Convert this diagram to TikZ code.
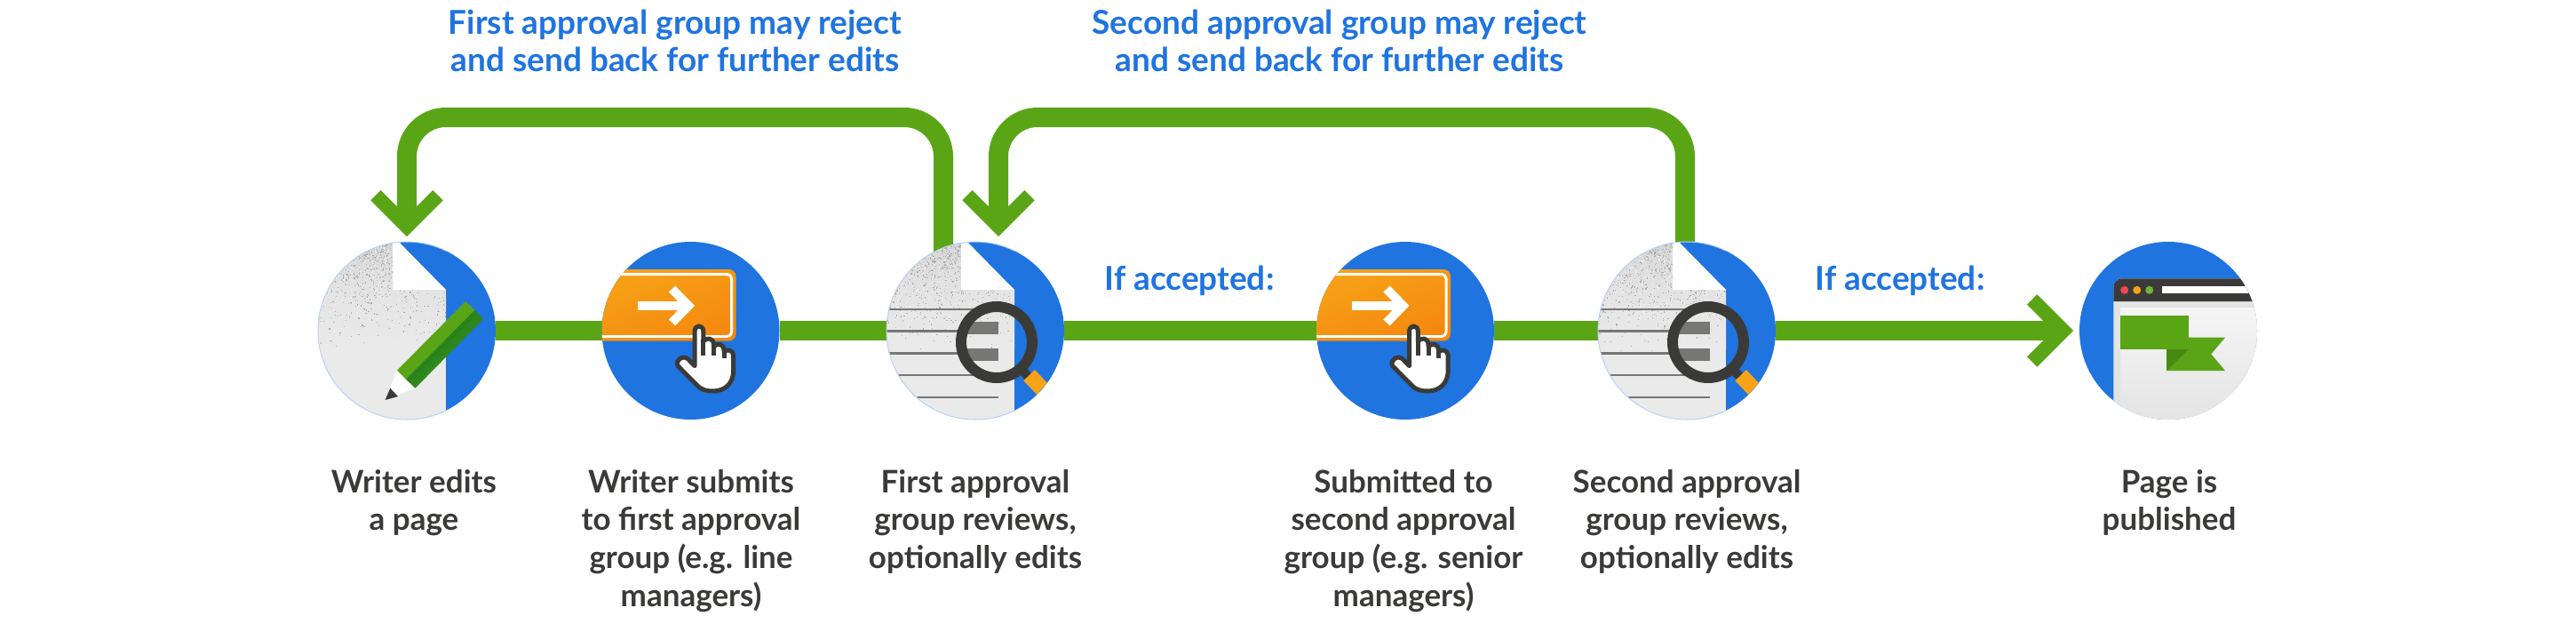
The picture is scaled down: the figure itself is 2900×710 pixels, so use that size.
\documentclass[tikz,border=0pt]{standalone}
\usepackage{fontspec}
\setmainfont{Lato}
\usetikzlibrary{arrows.meta,backgrounds}
\definecolor{flowgreen}{HTML}{5AA516}
\definecolor{darkgreen}{HTML}{0B6E20}
\definecolor{foldgreen}{HTML}{478A12}
\definecolor{discblue}{HTML}{1F74E0}
\definecolor{docgray}{HTML}{EAEAEA}
\definecolor{ink}{HTML}{3A3B39}
\definecolor{linegray}{HTML}{777775}
\definecolor{amber}{HTML}{F6A317}
\definecolor{deepamber}{HTML}{F5880F}
\definecolor{rimblue}{HTML}{B9D2F3}
\definecolor{dotred}{HTML}{F4474F}
\definecolor{dotgreen}{HTML}{6FB53A}
\tikzset{
  x=1pt,y=-1pt,
  disc/.style={circle,fill=discblue,minimum size=200pt,inner sep=0pt,outer sep=0pt},
  flow/.style={draw=flowgreen,line width=22pt,rounded corners=44pt},
  flowtip/.style={-{Straight Barb[length=35pt,width=70pt,line width=16pt]}},
  caption/.style={font=\bfseries\fontsize{35}{42.7}\selectfont,text=ink,align=center,anchor=north,inner sep=0pt},
  note/.style={font=\bfseries\fontsize{37}{42}\selectfont,text=discblue,align=center,inner sep=0pt},
  rulegray/.style={draw=linegray,line width=2.5pt},
  pics/rim/.style={code={
    \begin{scope}
      \clip (-110,-110) rectangle (44,110);
      \draw[rimblue,line width=1pt] (0,0) circle (100);
    \end{scope}
  }},
  pics/page/.style={code={
    \begin{scope}
      \clip (0,0) circle (100);
      \shade[top color=black!17,bottom color=docgray,middle color=black!11]
        (-110,-110) -- (-16,-110) -- (-16,-46) -- (44,-46) -- (44,20) -- (-110,20) -- cycle;
      \fill[docgray] (-110,20) rectangle (44,110);
      \begin{scope}
        \clip (-110,-110) -- (-16,-110) -- (-16,-46) -- (44,-46) -- (44,110) -- (-110,110) -- cycle;
        \pgfmathsetseed{#1}
        \foreach \i in {1,...,1100}{
          \pgfmathsetmacro\xa{rnd*150-105}
          \pgfmathsetmacro\ya{-100+125*rnd*rnd}
          \fill[black!32] (\xa,\ya) rectangle ++(1.2,1.2);
        }
        \foreach \i in {1,...,900}{
          \pgfmathsetmacro\xa{rnd*150-105}
          \pgfmathsetmacro\ya{-100+125*rnd}
          \fill[white!92!black] (\xa,\ya) rectangle ++(1.3,1.3);
        }
      \end{scope}
      \fill[white] (-16,-46) -- (44,-46) -- (-16,-107) -- cycle;
    \end{scope}
  }},
  pics/pencil/.style={code={
    \fill[white] (-11,44.7) -- (9.5,64.7) -- (-24.4,78) -- cycle;
    \fill[ink] (-24.4,78) -- (-18.7,64.7) -- (-10,74) -- cycle;
    \fill[flowgreen] (-11,44.7) -- (66,-33) -- (76.6,-23) -- (-1,54.7) -- cycle;
    \shade[left color=darkgreen,right color=flowgreen!85!darkgreen,shading angle=45]
      (-1,54.7) -- (76.6,-23) -- (86,-13) -- (9.5,64.7) -- cycle;
  }},
  pics/lens/.style={code={
    \begin{scope}
      \clip (0,0) circle (100);
      \foreach \yy in {-24,0.7,25.3,50,75}{\draw[rulegray] (-110,\yy) -- (26,\yy);}
      \begin{scope}
        \clip (24,13) circle (36);
        \fill[linegray] (-20,-10.3) rectangle (26,3.7);
        \fill[linegray] (-20,20.3) rectangle (26,34.3);
      \end{scope}
      \draw[ink,line width=10pt] (50,42) -- (62,54);
      \fill[amber] (67,44) -- (81,59) -- (69.3,72) -- (54.3,56.3) -- cycle;
      \draw[ink,line width=12pt] (24,13) circle (40);
    \end{scope}
  }},
  pics/clickbutton/.style={code={
    \begin{scope}
      \clip (0,0) circle (100);
      \shade[left color=amber,right color=deepamber,shading angle=20,rounded corners=8pt]
        (-120,-69) rectangle (51,11.7);
      \draw[white,line width=3pt,rounded corners=5pt] (-120,-63.5) -- (46,-63.5) -- (46,6.5) -- (-120,6.5);
      \draw[white,line width=10pt] (-59.6,-28) -- (-2,-28);
      \draw[white,line width=10pt,miter limit=10] (-21,-47) -- (-2.5,-28) -- (-21,-9);
      \draw[ink,line width=5pt,line join=round,fill=white,line cap=round]
        (4.6,39.7) -- (4.6,0.7) .. controls (4.6,-7) and (14.3,-7) .. (14.3,0.7)
        -- (14.3,12) .. controls (18,7) and (26,8) .. (26,16)
        -- (26,18) .. controls (30,13) and (37.5,15) .. (37.5,22)
        -- (37.5,24) .. controls (41,20) and (48.2,22) .. (48.2,28)
        -- (48.2,44.7) .. controls (48.2,60) and (38,68) .. (25,68)
        .. controls (17,68) and (11,66) .. (7.1,61.3)
        -- (-14.3,39.7) .. controls (-18,33) and (-8,27) .. (-3.6,31.3) -- cycle;
      \draw[ink,line width=5pt] (14.3,10) -- (14.3,28) (26,15) -- (26,28) (37.5,22) -- (37.5,31.3);
    \end{scope}
  }},
  pics/browser/.style={code={
    \begin{scope}
      \clip (0,0) circle (100);
      \fill[black!11,rounded corners=10pt] (-61.7,-58.7) rectangle (120,120);
      \shade[top color=black!4,bottom color=black!11] (-53.7,-25.3) rectangle (110,110);
      \fill[ink] (-61.7,-33) -- (-61.7,-48.7) arc[start angle=180,end angle=270,radius=10] -- (110,-58.7) -- (110,-33) -- cycle;
      \fill[white] (-6.7,-49.7) rectangle (110,-41.7);
      \fill[dotred] (-49.3,-45.7) circle (4.5);
      \fill[amber] (-35.3,-45.7) circle (4.5);
      \fill[dotgreen] (-21.3,-45.7) circle (4.5);
      \fill[flowgreen] (23.3,7.7) -- (64,7.7) -- (48.3,26.3) -- (64,45) -- (-2,45) -- (-2,20.7) -- cycle;
      \fill[foldgreen] (-2,20.7) -- (23.3,20.7) -- (-2,45) -- cycle;
      \fill[flowgreen] (-53.7,-16.7) rectangle (23.3,20.7);
    \end{scope}
  }},
}
\begin{document}
\begin{tikzpicture}
\useasboundingbox (0,0) rectangle (2900,710);
% discs
\node[disc] (c1) at (458,372) {};
\node[disc] (c2) at (777.5,372) {};
\node[disc] (c3) at (1098,372) {};
\node[disc] (c4) at (1582,372) {};
\node[disc] (c5) at (1899,372) {};
\node[disc] (c6) at (2441,372) {};
\coordinate (r1a) at (1062,132);
\coordinate (r1b) at (458,132);
\coordinate (t1) at (458,266);
\coordinate (r2a) at (1897,132);
\coordinate (r2b) at (1124,132);
\coordinate (t2) at (1124,266);
\coordinate (t3) at (2334,372);
% connectors under the discs
\begin{scope}[on background layer]
  \fill[white] (0,0) rectangle (2900,710);
  \draw[flow] (c1) -- (c2);
  \draw[flow] (c2) -- (c3);
  \draw[flow] (c3) -- (c4);
  \draw[flow] (c4) -- (c5);
  \draw[flow,flowtip] (c5) -- (t3);
  \draw[flow,flowtip] (r1a |- c3) -- (r1a) -- (r1b) -- (t1);
  \draw[flow,flowtip] (r2a |- c5) -- (r2a) -- (r2b) -- (t2);
\end{scope}
% icons
\pic at (c1) {page=11};
\pic at (c1) {pencil};
\pic at (c1) {rim};
\pic at (c2) {clickbutton};
\pic at (c3) {page=22};
\pic at (c3) {lens};
\pic at (c3) {rim};
\pic at (c5) {page=33};
\pic at (c5) {lens};
\pic at (c5) {rim};
\pic at (c4) {clickbutton};
\pic at (c6) {browser};
% captions
\node[caption] (l1) at (466,528) {Writer edits\\a page};
\node[caption] (l2) at (778,528) {Writer submits\\to first approval\\group (e.g. line\\managers)};
\node[caption] (l3) at (1098,528) {First approval\\group reviews,\\optionally edits};
\node[caption] (l4) at (1580,528) {Submitted to\\second approval\\group (e.g. senior\\managers)};
\node[caption] (l5) at (1899,528) {Second approval\\group reviews,\\optionally edits};
\node[caption] (l6) at (2442,528) {Page is\\published};
% notes
\node[note] (n1) at (760,46) {First approval group may reject\\and send back for further edits};
\node[note] (n2) at (1508,46) {Second approval group may reject\\and send back for further edits};
\node[note] (n3) at (1339,316) {If accepted:};
\node[note] (n4) at (2139,316) {If accepted:};
\end{tikzpicture}
\end{document}
